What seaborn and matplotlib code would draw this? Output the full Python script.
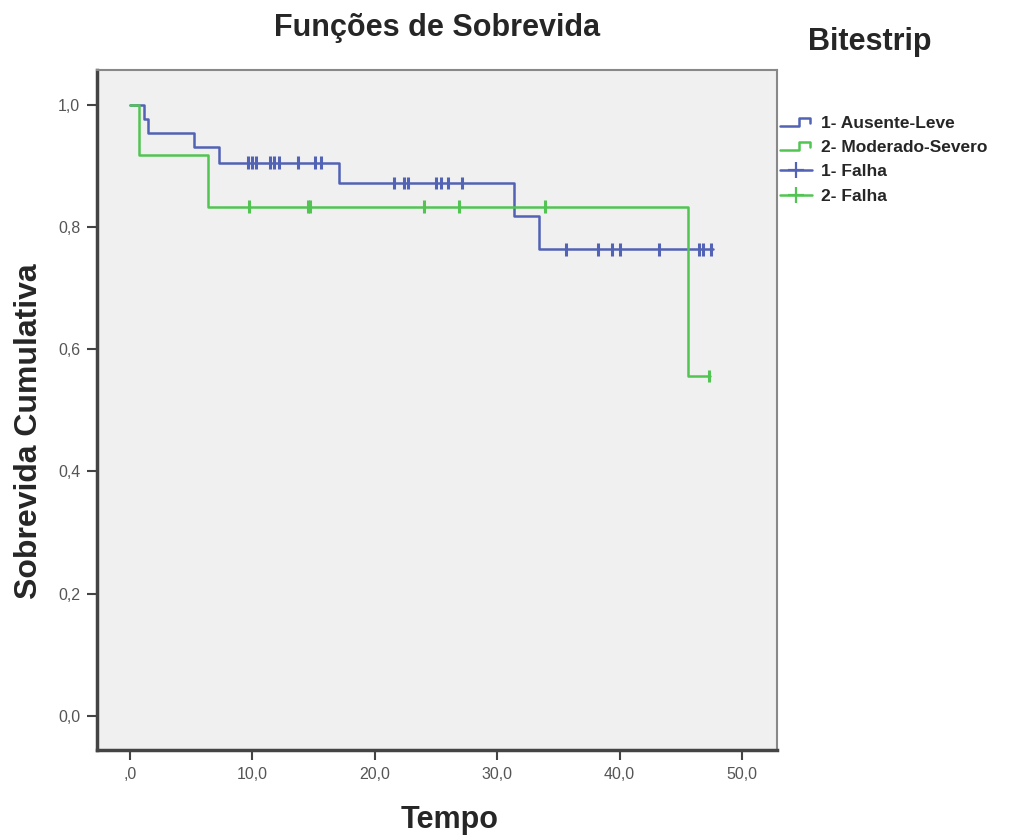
import numpy as np
import pandas as pd
import matplotlib
matplotlib.use('Agg')
import matplotlib.pyplot as plt
from matplotlib.lines import Line2D
from matplotlib.legend_handler import HandlerBase
import seaborn as sns

# dados (Kaplan-Meier por grupo de Bitestrip)
tempo_g1 = [0.0, 1.1, 1.5, 5.2, 7.3, 17.1, 31.4, 33.4, 47.6]
sobrev_g1 = [1.0, 0.977, 0.954, 0.930, 0.905, 0.872, 0.817, 0.763, 0.763]
censura_g1 = [9.6, 10.0, 10.3, 11.4, 11.8, 12.2, 13.7, 15.1, 15.6, 21.6, 22.4, 22.7,
              25.0, 25.4, 26.0, 27.1, 35.6, 38.2, 39.4, 40.0, 43.2, 46.5, 46.8, 47.5]

tempo_g2 = [0.0, 0.7, 6.4, 45.6, 47.4]
sobrev_g2 = [1.0, 0.917, 0.833, 0.556, 0.556]
censura_g2 = [9.7, 14.5, 14.7, 24.0, 26.9, 33.9, 47.3]

grupos = ["1- Ausente-Leve", "2- Moderado-Severo"]
falhas = ["1- Falha", "2- Falha"]
cores = ["#5262b5", "#52c452"]

x_ticks = [0, 10, 20, 30, 40, 50]
x_labels = [",0", "10,0", "20,0", "30,0", "40,0", "50,0"]
y_ticks = [0.0, 0.2, 0.4, 0.6, 0.8, 1.0]
y_labels = ["0,0", "0,2", "0,4", "0,6", "0,8", "1,0"]


def valor_em(tempos, sobrev, t):
    idx = np.searchsorted(tempos, t, side="right") - 1
    return np.array(sobrev)[idx]


curvas = pd.concat([
    pd.DataFrame({"tempo": tempo_g1, "sobrev": sobrev_g1, "grupo": grupos[0]}),
    pd.DataFrame({"tempo": tempo_g2, "sobrev": sobrev_g2, "grupo": grupos[1]}),
])
cens = pd.concat([
    pd.DataFrame({"tempo": censura_g1, "sobrev": valor_em(tempo_g1, sobrev_g1, censura_g1), "grupo": falhas[0]}),
    pd.DataFrame({"tempo": censura_g2, "sobrev": valor_em(tempo_g2, sobrev_g2, censura_g2), "grupo": falhas[1]}),
])

sns.set_style("white")
plt.rcParams['font.family'] = ['Liberation Sans', 'DejaVu Sans']

fig = plt.figure(figsize=(10.14, 8.4), dpi=100)
ax = fig.add_axes([0.0957, 0.107, 0.671, 0.810])
ax.set_facecolor("#f0f0f0")

sns.lineplot(data=curvas, x="tempo", y="sobrev", hue="grupo", palette=cores,
             drawstyle="steps-post", linewidth=1.8, legend=False, ax=ax,
             estimator=None, sort=False)
sns.scatterplot(data=cens, x="tempo", y="sobrev", hue="grupo", palette=cores,
                marker="|", s=80, linewidth=2.2, legend=False, ax=ax, zorder=3)

ax.set_xlim(-2.7, 52.9)
ax.set_ylim(-0.056, 1.057)
ax.set_xticks(x_ticks)
ax.set_xticklabels(x_labels)
ax.set_yticks(y_ticks)
ax.set_yticklabels(y_labels)
ax.tick_params(axis="both", direction="out", length=7, width=1.5, color="#444444",
               labelsize=11.5, labelcolor="#555555", left=True, bottom=True, pad=5)
for lado in ["left", "bottom"]:
    ax.spines[lado].set_color("#444444")
    ax.spines[lado].set_linewidth(2.5)
for lado in ["top", "right"]:
    ax.spines[lado].set_color("#888888")
    ax.spines[lado].set_linewidth(1.5)

ax.set_xlabel("Tempo", fontsize=22, fontweight="bold")
ax.xaxis.set_label_coords(0.518, -0.08)
ax.set_ylabel("Sobrevida Cumulativa", fontsize=23, fontweight="bold")
ax.yaxis.set_label_coords(-0.078, 0.469)
ax.set_title("Funções de Sobrevida", fontsize=22, fontweight="bold", pad=24)


class HandlerDegrau(HandlerBase):
    def create_artists(self, legend, orig_handle, xdescent, ydescent,
                       width, height, fontsize, trans):
        xs = np.array([0, 0.6, 0.6, 0.95, 0.95]) * width - xdescent
        ys = np.array([0.15, 0.15, 0.85, 0.85, 0.4]) * height - ydescent
        linha = Line2D(xs, ys, color=orig_handle.get_color(), linewidth=1.8,
                       transform=trans)
        return [linha]


h_grupos = [Line2D([], [], color=c) for c in cores]
h_falhas = [Line2D([], [], color=c, marker="+", markersize=12, markeredgewidth=1.6,
                   linewidth=1.8) for c in cores]
leg = fig.legend(h_grupos + h_falhas, grupos + falhas, loc="upper left",
                 bbox_to_anchor=(0.769, 0.862), frameon=False, fontsize=12.5,
                 borderpad=0, borderaxespad=0,
                 handlelength=1.85, handletextpad=0.55, labelspacing=0.52,
                 handler_map={h: HandlerDegrau() for h in h_grupos})
for t in leg.get_texts():
    t.set_fontweight("bold")

fig.text(0.858, 0.950, "Bitestrip", fontsize=22, fontweight="bold",
         ha="center", va="center")

fig.savefig("out.png", dpi=100)
